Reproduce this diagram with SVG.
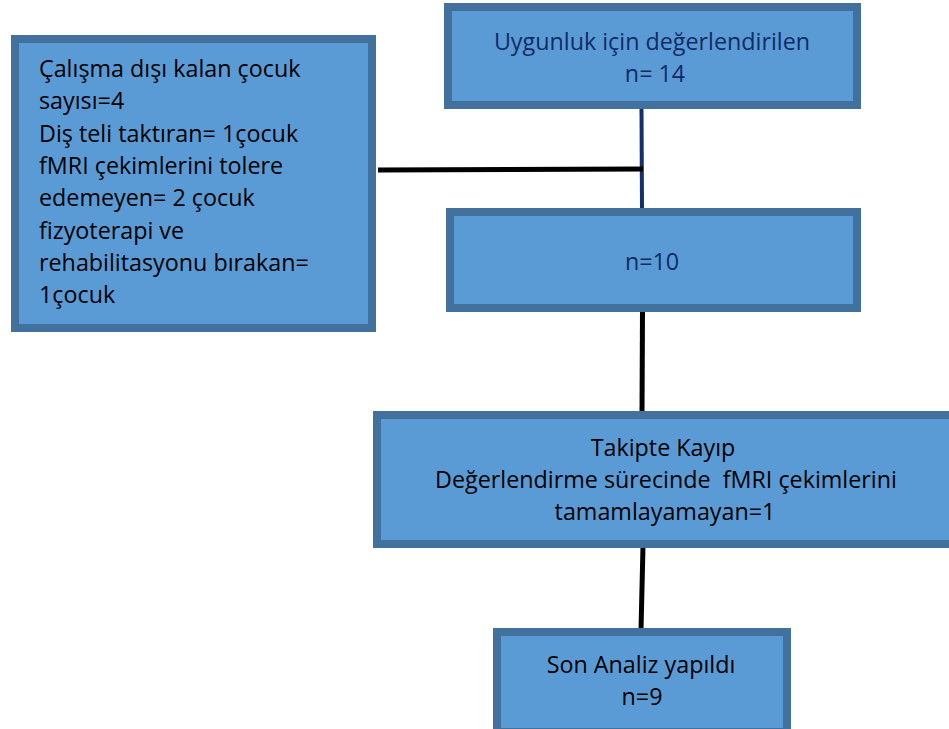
<svg xmlns="http://www.w3.org/2000/svg" width="949" height="729" viewBox="0 0 949 729">
<style>
.box{fill:#5b9bd5;stroke:#41719c;stroke-width:8}
text{font-family:"Open Sans",Lato,"Liberation Sans",sans-serif;font-size:23.3px;fill:#000}
.navy{fill:#102c66}
.c{text-anchor:middle}
.ln{stroke:#000;stroke-width:5;fill:none}
</style>
<rect width="949" height="729" fill="#fff"/>
<g id="connectors">
<line x1="641.5" y1="108" x2="642" y2="210" stroke="#13306a" stroke-width="4"/>
<line class="ln" x1="378" y1="170" x2="643" y2="169"/>
<line class="ln" x1="642.5" y1="310" x2="642" y2="413"/>
<line class="ln" x1="643" y1="546" x2="641" y2="630"/>
</g>
<g id="node-eligible">
<rect class="box" x="448" y="7" width="409" height="98"/>
<text class="navy c" x="652" y="50">Uygunluk için değerlendirilen</text>
<text class="navy c" x="655" y="82">n= 14</text>
</g>
<g id="node-excluded">
<rect class="box" x="15" y="39" width="357" height="289"/>
<text x="39" y="77">Çalışma dışı kalan çocuk</text>
<text x="39" y="109">sayısı=4</text>
<text x="39" y="142">Diş teli taktıran= 1çocuk</text>
<text x="39" y="174">fMRI çekimlerini tolere</text>
<text x="39" y="206">edemeyen= 2 çocuk</text>
<text x="39" y="239">fizyoterapi ve</text>
<text x="39" y="271">rehabilitasyonu bırakan=</text>
<text x="39" y="303">1çocuk</text>
</g>
<g id="node-n10">
<rect class="box" x="450" y="212" width="407" height="96"/>
<text class="navy c" x="652" y="270">n=10</text>
</g>
<g id="node-lost">
<rect class="box" x="377" y="415" width="580" height="129"/>
<text class="c" x="663" y="456">Takipte Kayıp</text>
<text class="c" x="666" y="488" xml:space="preserve">Değerlendirme sürecinde  fMRI çekimlerini</text>
<text class="c" x="665" y="520">tamamlayamayan=1</text>
</g>
<g id="node-final">
<rect class="box" x="497" y="632" width="290" height="100"/>
<text class="c" x="641" y="673">Son Analiz yapıldı</text>
<text class="c" x="642" y="705">n=9</text>
</g>
</svg>
